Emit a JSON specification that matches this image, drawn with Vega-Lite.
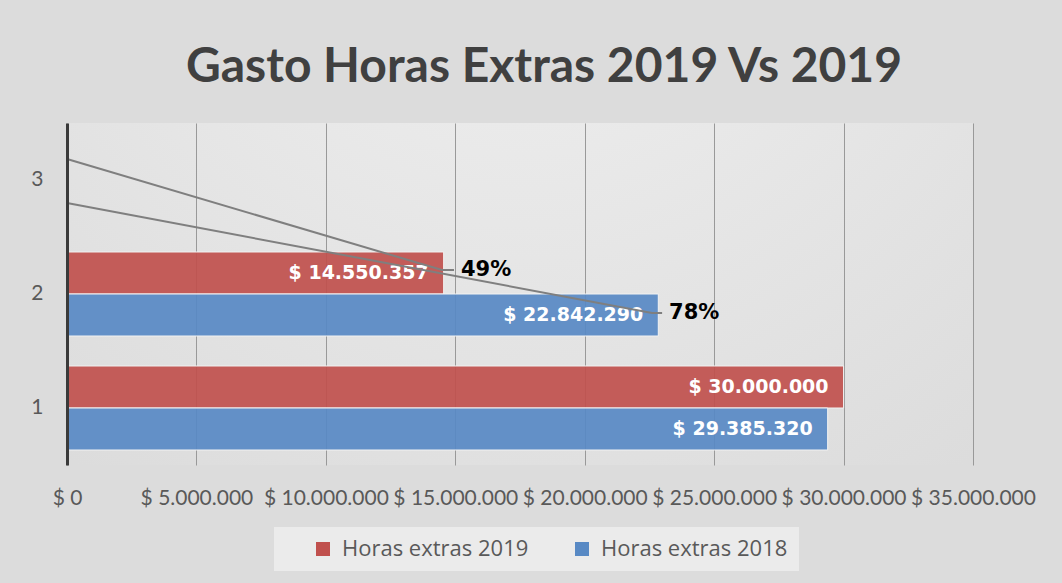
{
  "$schema": "https://vega.github.io/schema/vega-lite/v6.json",
  "width": 906,
  "height": 342,
  "autosize": {"type": "none"},
  "padding": {"left": 67, "top": 123, "right": 89, "bottom": 118},
  "background": "#dcdcdc",
  "config": {
    "locale": {"number": {"decimal": ",", "thousands": ".", "grouping": [3], "currency": ["$ ", ""]}},
    "view": {
      "stroke": null,
      "fill": {"gradient": "radial", "x1": 0.5, "y1": 0, "r1": 0, "x2": 0.5, "y2": 0, "r2": 1,
        "stops": [{"offset": 0, "color": "#f2f2f2"}, {"offset": 1, "color": "#d8d8d8"}]}
    },
    "font": "Lato"
  },
  "title": {
    "text": "Gasto Horas Extras 2019 Vs 2019",
    "font": "Lato",
    "fontSize": 48,
    "fontWeight": "bold",
    "color": "#404040",
    "anchor": "middle",
    "dx": 24,
    "dy": 48,
    "offset": 31,
    "baseline": "bottom"
  },
  "datasets": {
    "barras": [
      {"categoria": "1", "serie": "Horas extras 2019", "valor": 30000000},
      {"categoria": "1", "serie": "Horas extras 2018", "valor": 29385320},
      {"categoria": "2", "serie": "Horas extras 2019", "valor": 14550357},
      {"categoria": "2", "serie": "Horas extras 2018", "valor": 22842290}
    ],
    "guias": [
      {"linea": "49%", "orden": 1, "x": 0, "y": 3.184},
      {"linea": "49%", "orden": 2, "x": 14490000, "y": 2.21},
      {"linea": "49%", "orden": 3, "x": 14950000, "y": 2.21},
      {"linea": "78%", "orden": 1, "x": 0, "y": 2.798},
      {"linea": "78%", "orden": 2, "x": 22600000, "y": 1.833},
      {"linea": "78%", "orden": 3, "x": 22990000, "y": 1.833}
    ],
    "porcentajes": [
      {"texto": "49%", "x": 14950000, "y": 2.21},
      {"texto": "78%", "x": 22990000, "y": 1.833}
    ]
  },
  "layer": [
    {
      "data": {"name": "barras"},
      "encoding": {
        "y": {
          "field": "categoria",
          "type": "nominal",
          "scale": {"domain": ["3", "2", "1"], "paddingInner": 0.263, "paddingOuter": 0.1315},
          "axis": {
            "title": null,
            "domain": true,
            "domainColor": "#3a3a3a",
            "domainWidth": 3,
            "ticks": false,
            "grid": false,
            "labelFont": "Lato",
            "labelFontSize": 21,
            "labelColor": "#595959",
            "labelPadding": 24,
            "zindex": 1
          }
        },
        "yOffset": {
          "field": "serie",
          "type": "nominal",
          "scale": {"domain": ["Horas extras 2019", "Horas extras 2018"], "paddingInner": 0, "paddingOuter": 0}
        },
        "x": {
          "field": "valor",
          "type": "quantitative",
          "scale": {"domain": [0, 35000000], "nice": false},
          "axis": {
            "title": null,
            "values": [0, 5000000, 10000000, 15000000, 20000000, 25000000, 30000000, 35000000],
            "format": "$,.0f",
            "grid": true,
            "gridColor": "#999999",
            "gridWidth": 1,
            "domain": false,
            "ticks": false,
            "labelFont": "Lato",
            "labelFontSize": 21,
            "labelColor": "#595959",
            "labelPadding": 22,
            "labelOverlap": false,
            "labelFlush": false
          }
        }
      },
      "layer": [
        {
          "mark": {"type": "bar", "fillOpacity": 0.92, "stroke": "#f2f2f2", "strokeWidth": 1},
          "encoding": {
            "color": {
              "field": "serie",
              "type": "nominal",
              "scale": {"domain": ["Horas extras 2019", "Horas extras 2018"], "range": ["#C0504D", "#5889C4"]},
              "legend": {
                "orient": "none",
                "legendX": 207,
                "legendY": 404,
                "direction": "horizontal",
                "title": null,
                "fillColor": "#ebebeb",
                "padding": 11,
                "symbolType": "square",
                "symbolSize": 196,
                "symbolOffset": 27,
                "symbolStrokeWidth": 0,
                "labelFont": "Open Sans",
                "labelFontSize": 22,
                "labelColor": "#595959",
                "labelOffset": 8,
                "labelLimit": 400,
                "columnPadding": 15
              }
            }
          }
        },
        {
          "mark": {"type": "text", "align": "right", "baseline": "middle", "dx": -15, "font": "DejaVu Sans", "fontWeight": "bold", "fontSize": 19, "color": "#ffffff"},
          "encoding": {
            "text": {"field": "valor", "type": "quantitative", "format": "$,.0f"}
          }
        }
      ]
    },
    {
      "data": {"name": "guias"},
      "mark": {"type": "line", "color": "#7f7f7f", "strokeWidth": 2},
      "encoding": {
        "x": {"field": "x", "type": "quantitative"},
        "y": {"field": "y", "type": "quantitative", "scale": {"domain": [0.5, 3.5], "nice": false, "zero": false}, "axis": null},
        "detail": {"field": "linea"},
        "order": {"field": "orden"}
      }
    },
    {
      "data": {"name": "porcentajes"},
      "mark": {"type": "text", "align": "left", "baseline": "middle", "dx": 7, "font": "DejaVu Sans", "fontWeight": "bold", "fontSize": 21, "color": "#000000"},
      "encoding": {
        "x": {"field": "x", "type": "quantitative"},
        "y": {"field": "y", "type": "quantitative", "scale": {"domain": [0.5, 3.5], "nice": false, "zero": false}, "axis": null},
        "text": {"field": "texto"}
      }
    }
  ],
  "resolve": {"scale": {"y": "independent"}}
}
